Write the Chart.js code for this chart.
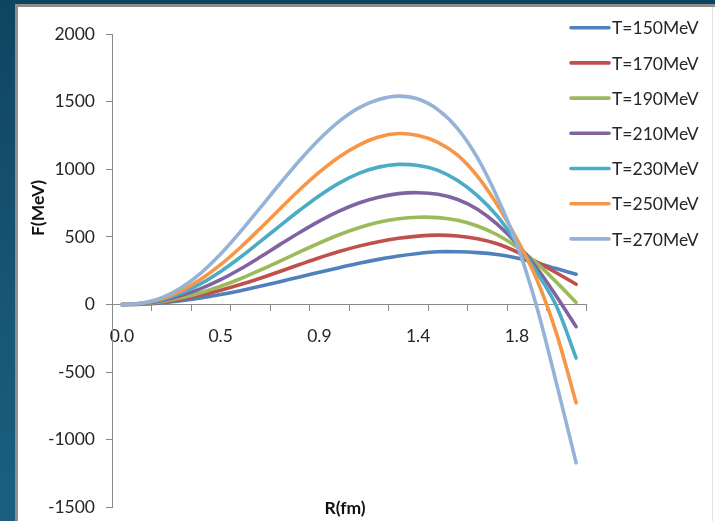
<!DOCTYPE html>
<html>
<head>
<meta charset="utf-8">
<script src="https://cdn.jsdelivr.net/npm/chart.js@4.4.0/dist/chart.umd.min.js"></script>
<style>
  html, body { margin: 0; padding: 0; width: 715px; height: 521px; overflow: hidden; }
  body { background: linear-gradient(to bottom, #0f4460 0%, #175676 60%, #1b5f80 100%); position: relative; }
  #panel { position: absolute; left: 15px; top: 4px; right: 0; bottom: 0; background: #ffffff;
           border-top: 3px solid #8d8d8d; border-left: 3px solid #8d8d8d; }
  #edge { position: absolute; right: 2px; top: 7px; bottom: 0; width: 1px; background: #e2e2e2; }
  canvas { position: absolute; left: 0; top: 0; }
</style>
</head>
<body>
<div id="panel"></div>
<div id="edge"></div>
<canvas id="c" width="715" height="529"></canvas>
<script>
// ---- data ----
const rValues = [0.00, 0.09, 0.18, 0.27, 0.36, 0.45, 0.54, 0.63, 0.72, 0.81, 0.90, 0.99,
                 1.08, 1.17, 1.26, 1.35, 1.44, 1.53, 1.62, 1.71, 1.80, 1.89, 1.98, 2.07];
const seriesNames = ['T=150MeV', 'T=170MeV', 'T=190MeV', 'T=210MeV', 'T=230MeV', 'T=250MeV', 'T=270MeV'];
const t150 = [0, 3, 12, 28, 49, 74, 103, 135, 169, 204, 239, 273, 305, 334, 359, 378, 390, 390, 384, 370, 345, 308, 266, 224];
const t170 = [0, 5, 18, 40, 70, 106, 148, 195, 245, 296, 346, 392, 432, 465, 490, 506, 513, 507, 487, 450, 390, 315, 235, 150];
const t190 = [0, 6, 22, 50, 88, 135, 191, 254, 321, 389, 455, 516, 568, 608, 634, 646, 643, 623, 581, 516, 426, 306, 166, 16];
const t210 = [0, 7, 28, 66, 118, 184, 263, 351, 443, 533, 617, 691, 751, 794, 820, 827, 815, 777, 705, 595, 450, 272, 62, -163];
const t230 = [0, 8, 35, 85, 155, 245, 350, 465, 582, 697, 805, 898, 970, 1016, 1036, 1028, 992, 917, 805, 655, 455, 240, -10, -395];
const t250 = [0, 10, 42, 102, 187, 295, 422, 562, 707, 849, 979, 1091, 1179, 1239, 1264, 1249, 1199, 1104, 949, 739, 484, 189, -211, -726];
const t270 = [0, 12, 50, 125, 233, 373, 538, 715, 893, 1065, 1222, 1354, 1454, 1516, 1541, 1519, 1441, 1301, 1086, 796, 446, -14, -579, -1170];
const yTicks = [-1500, -1000, -500, 0, 500, 1000, 1500, 2000];
const xTitle = 'R(fm)';
const yTitle = 'F(MeV)';

const colors = ['#4F81BD', '#C0504D', '#9BBB59', '#8064A2', '#4BACC6', '#F79646', '#95B3D7'];
const allSeries = [t150, t170, t190, t210, t230, t250, t270];

const FONT = 'Lato, "Open Sans", sans-serif';
const AXIS = '#8a8a8a';

const datasets = allSeries.map((vals, i) => ({
  label: seriesNames[i],
  data: vals,
  borderColor: colors[i],
  backgroundColor: colors[i],
  borderWidth: 3.6,
  borderCapStyle: 'round',
  borderJoinStyle: 'round',
  pointRadius: 0,
  tension: 0.35,
  fill: false,
  order: allSeries.length - i
}));

const overlay = {
  id: 'overlay',
  afterDraw(chart) {
    const ctx = chart.ctx;
    ctx.save();
    // legend
    ctx.font = '17.5px ' + FONT;
    ctx.textBaseline = 'middle';
    ctx.textAlign = 'left';
    chart.data.datasets.forEach((ds, i) => {
      const y = 27.7 + 35.2 * i;
      ctx.strokeStyle = ds.borderColor;
      ctx.lineWidth = 3.6;
      ctx.lineCap = 'round';
      ctx.beginPath();
      ctx.moveTo(571, y);
      ctx.lineTo(609, y);
      ctx.stroke();
      ctx.fillStyle = '#262626';
      ctx.fillText(ds.label, 612, y + 1);
    });
    // axis titles
    ctx.font = 'bold 17.5px ' + FONT;
    ctx.fillStyle = '#111111';
    ctx.textAlign = 'center';
    ctx.textBaseline = 'middle';
    const ca = chart.chartArea;
    ctx.fillText(xTitle, (ca.left + ca.right) / 2 - 4, ca.bottom + 1);
    ctx.translate(38, 208);
    ctx.rotate(-Math.PI / 2);
    ctx.fillText(yTitle, 0, 0);
    ctx.restore();
  }
};

new Chart(document.getElementById('c'), {
  type: 'line',
  data: { labels: rValues, datasets },
  options: {
    responsive: false,
    animation: false,
    events: [],
    layout: { padding: { left: 0, top: 34, right: 129, bottom: 16 } },
    plugins: { legend: { display: false }, tooltip: { enabled: false }, title: { display: false } },
    scales: {
      x: {
        type: 'category',
        position: { y: 0 },
        offset: true,
        afterFit: (scale) => { scale.height = 0; },
        grid: {
          offset: true,
          drawOnChartArea: false,
          drawTicks: true,
          tickLength: 6,
          lineWidth: 1,
          tickColor: (c) => (c.index === undefined || c.index % 2 === 0) ? AXIS : 'rgba(0,0,0,0)',
          color: AXIS
        },
        border: { display: true, color: AXIS, width: 1 },
        ticks: {
          autoSkip: false,
          maxRotation: 0,
          padding: 15,
          color: '#262626',
          font: { family: FONT, size: 17.5 },
          callback: function (val, index) {
            return index % 5 === 0 ? Number(rValues[index]).toFixed(1) : '';
          }
        }
      },
      y: {
        position: 'left',
        min: yTicks[0],
        max: yTicks[yTicks.length - 1],
        afterBuildTicks: (scale) => { scale.ticks = yTicks.map(v => ({ value: v })); },
        afterFit: (scale) => { scale.width = 112; },
        grid: { drawOnChartArea: false, drawTicks: true, tickLength: 6, color: AXIS },
        border: { display: true, color: AXIS, width: 1 },
        ticks: {
          padding: 11,
          color: '#262626',
          font: { family: FONT, size: 17.5 },
          callback: (v) => String(v)
        }
      }
    }
  },
  plugins: [overlay]
});
</script>
</body>
</html>
